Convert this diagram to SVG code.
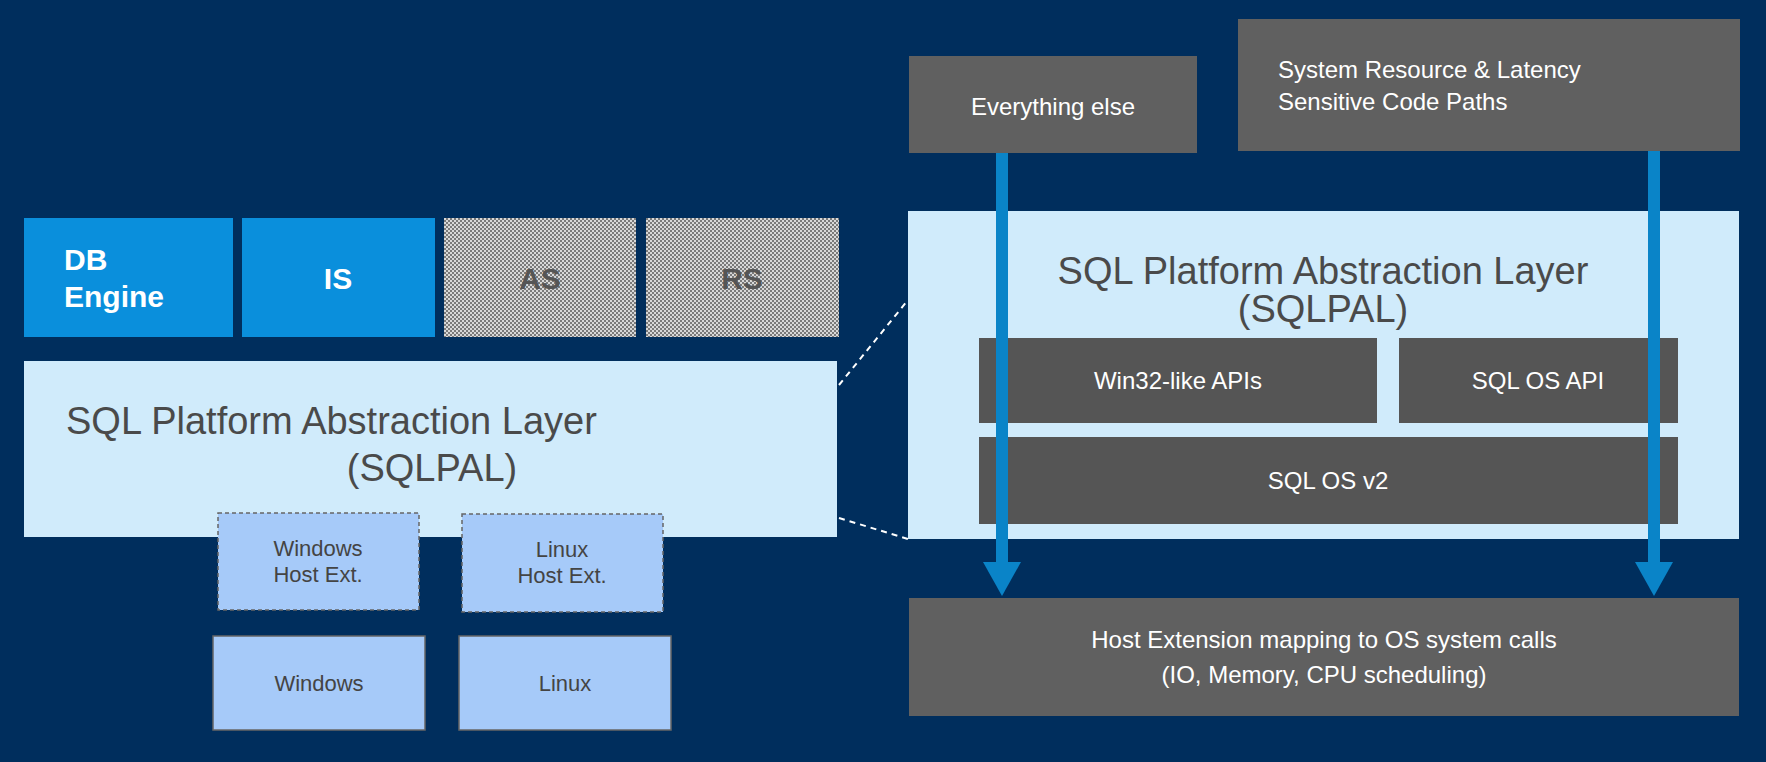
<svg xmlns="http://www.w3.org/2000/svg" width="1766" height="762" viewBox="0 0 1766 762">
<defs>
<pattern id="chk" width="4" height="4" patternUnits="userSpaceOnUse">
<rect width="4" height="4" fill="#d8d8d8"/><rect width="2" height="2" fill="#7a7a7a"/><rect x="2" y="2" width="2" height="2" fill="#7a7a7a"/>
</pattern>
<marker id="ah" markerWidth="6" markerHeight="6" refX="3" refY="5.5" orient="auto" markerUnits="userSpaceOnUse" viewBox="0 0 6 6"><path d="M0,0 L6,0 L3,6 Z" fill="#0a84c8"/></marker>
</defs>
<style>
text{font-family:"Liberation Sans",Arial,sans-serif;}
.bw{fill:#fff;font-weight:bold;font-size:30px;}
.bg{fill:#555;font-weight:bold;font-size:30px;}
.big{fill:#4a4a4a;font-size:38px;}
.sm{fill:#444;font-size:22px;}
.wt{fill:#fff;font-size:24px;}
.lb{fill:#a6caf9;stroke:#666;stroke-width:1.5;}
.gr{fill:#606060;}
.dg{fill:#555;}
.dash{stroke:#fff;stroke-width:2;stroke-dasharray:6,5;fill:none;}
.arr{stroke:#0a84c8;stroke-width:12;fill:none;}
</style>
<rect width="1766" height="762" fill="#002e5d"/>
<g id="db"><rect x="24" y="218" width="209" height="119" fill="#0a8fdc"/><text class="bw" x="64" y="270">DB</text><text class="bw" x="64" y="307">Engine</text></g>
<g id="is"><rect x="242" y="218" width="193" height="119" fill="#0a8fdc"/><text class="bw" x="338" y="289" text-anchor="middle">IS</text></g>
<g id="as"><rect x="444" y="218" width="192" height="119" fill="url(#chk)"/><text class="bg" x="540" y="289" text-anchor="middle">AS</text></g>
<g id="rs"><rect x="646" y="218" width="193" height="119" fill="url(#chk)"/><text class="bg" x="742" y="289" text-anchor="middle">RS</text></g>
<g id="pal-left"><rect x="24" y="361" width="813" height="176" fill="#d0ebfb"/><text class="big" x="66" y="434">SQL Platform Abstraction Layer</text><text class="big" x="432" y="481" text-anchor="middle">(SQLPAL)</text></g>
<g id="winext"><rect x="218" y="513" width="201" height="97" class="lb" stroke-dasharray="4,3"/><text class="sm" x="318" y="556" text-anchor="middle">Windows</text><text class="sm" x="318" y="582" text-anchor="middle">Host Ext.</text></g>
<g id="linext"><rect x="462" y="514" width="201" height="98" class="lb" stroke-dasharray="4,3"/><text class="sm" x="562" y="557" text-anchor="middle">Linux</text><text class="sm" x="562" y="583" text-anchor="middle">Host Ext.</text></g>
<g id="win"><rect x="213" y="636" width="212" height="94" class="lb"/><text class="sm" x="319" y="691" text-anchor="middle">Windows</text></g>
<g id="lin"><rect x="459" y="636" width="212" height="94" class="lb"/><text class="sm" x="565" y="691" text-anchor="middle">Linux</text></g>
<g id="pal-right"><rect x="908" y="211" width="831" height="328" fill="#d0ebfb"/><text class="big" x="1323" y="284" text-anchor="middle">SQL Platform Abstraction Layer</text><text class="big" x="1323" y="322" text-anchor="middle">(SQLPAL)</text></g>
<g id="win32"><rect x="979" y="338" width="398" height="85" class="dg"/><text class="wt" x="1178" y="389" text-anchor="middle">Win32-like APIs</text></g>
<g id="sqlosapi"><rect x="1399" y="338" width="279" height="85" class="dg"/><text class="wt" x="1538" y="389" text-anchor="middle">SQL OS API</text></g>
<g id="sqlos"><rect x="979" y="437" width="699" height="87" class="dg"/><text class="wt" x="1328" y="489" text-anchor="middle">SQL OS v2</text></g>
<g id="else"><rect x="909" y="56" width="288" height="97" class="gr"/><text class="wt" x="1053" y="115" text-anchor="middle">Everything else</text></g>
<g id="sysres"><rect x="1238" y="19" width="502" height="132" class="gr"/><text class="wt" x="1278" y="78">System Resource &amp; Latency</text><text class="wt" x="1278" y="110">Sensitive Code Paths</text></g>
<g id="hostext"><rect x="909" y="598" width="830" height="118" class="gr"/><text class="wt" x="1324" y="648" text-anchor="middle" font-size="29">Host Extension mapping to OS system calls</text><text class="wt" x="1324" y="683" text-anchor="middle" font-size="29">(IO, Memory, CPU scheduling)</text></g>
<g id="connectors">
<line class="dash" x1="839" y1="385" x2="908" y2="300"/>
<line class="dash" x1="839" y1="518" x2="908" y2="539"/>
<line class="arr" x1="1002" y1="153" x2="1002" y2="565"/>
<path d="M983,562 L1021,562 L1002,596 Z" fill="#0a84c8"/>
<line class="arr" x1="1654" y1="151" x2="1654" y2="565"/>
<path d="M1635,562 L1673,562 L1654,596 Z" fill="#0a84c8"/>
</g>
</svg>
